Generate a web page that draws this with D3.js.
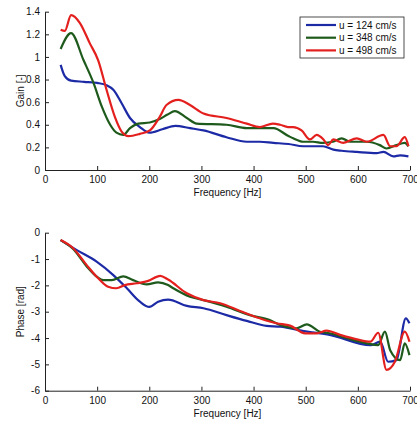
<!DOCTYPE html>
<html lang="en">
<head>
  <meta charset="UTF-8">
  <title>Gain and phase vs frequency</title>
  <style>
    body { margin: 0; background: #fff; }
    svg { display: block; font-family: "Liberation Sans", Arial, sans-serif; }
    .axis path, .axis line { stroke: #222; }
    .axis text { font-size: 10px; fill: #111; }
    .label { font-size: 10px; fill: #111; }
    .curve { fill: none; stroke-width: 2.2px; stroke-linejoin: round; }
  </style>
  <script src="https://d3js.org/d3.v7.min.js"></script>
</head>
<body>
<div id="chart"></div>
<script>
  // series labels and colours
  var seriesNames = ["u = 124 cm/s", "u = 348 cm/s", "u = 498 cm/s"];
  var colors = ["#1c2aa6", "#1e5a1c", "#e3201e"];

  // gain [-] vs frequency [Hz]
  var gain124 = [[30,0.93],[38,0.83],[50,0.79],[75,0.78],[100,0.77],[118,0.75],[131,0.71],[147,0.59],[163,0.46],[182,0.38],[200,0.33],[225,0.36],[250,0.39],[278,0.37],[304,0.35],[348,0.29],[387,0.25],[412,0.25],[438,0.24],[467,0.23],[495,0.21],[533,0.21],[553,0.18],[569,0.17],[598,0.16],[636,0.15],[649,0.16],[668,0.12],[681,0.13],[697,0.12]];
  var gain348 = [[30,1.07],[50,1.21],[74,0.97],[93,0.77],[109,0.56],[125,0.40],[137,0.33],[150,0.31],[163,0.37],[179,0.41],[201,0.42],[220,0.45],[235,0.49],[249,0.52],[272,0.46],[291,0.41],[348,0.40],[387,0.37],[412,0.37],[438,0.37],[467,0.30],[476,0.28],[495,0.25],[514,0.25],[533,0.24],[552,0.25],[569,0.28],[585,0.25],[617,0.25],[642,0.22],[655,0.19],[674,0.22],[690,0.24],[697,0.21]];
  var gain498 = [[30,1.24],[38,1.23],[50,1.37],[67,1.30],[86,1.12],[102,0.97],[118,0.71],[134,0.47],[147,0.34],[160,0.30],[182,0.32],[201,0.35],[220,0.47],[233,0.575],[256,0.62],[278,0.575],[304,0.50],[348,0.46],[387,0.41],[412,0.38],[437,0.41],[451,0.40],[466,0.38],[476,0.38],[492,0.35],[508,0.27],[521,0.31],[534,0.27],[543,0.22],[553,0.27],[572,0.24],[598,0.28],[617,0.25],[649,0.31],[662,0.21],[674,0.21],[690,0.29],[697,0.21]];

  // phase [rad] vs frequency [Hz]
  var phase124 = [[30,-0.28],[61,-0.66],[99,-1.10],[131,-1.61],[157,-2.11],[182,-2.62],[200,-2.82],[217,-2.62],[236,-2.54],[272,-2.78],[304,-2.87],[348,-3.13],[387,-3.35],[425,-3.54],[451,-3.57],[500,-3.75],[546,-3.88],[624,-4.27],[643,-4.14],[658,-4.90],[674,-4.84],[692,-3.25],[699,-3.44]];
  var phase348 = [[30,-0.28],[54,-0.62],[80,-1.28],[100,-1.68],[112,-1.80],[128,-1.80],[150,-1.66],[169,-1.80],[195,-1.96],[217,-1.89],[236,-1.99],[246,-2.11],[278,-2.43],[304,-2.56],[348,-2.81],[393,-3.13],[431,-3.32],[451,-3.50],[483,-3.63],[502,-3.48],[527,-3.76],[546,-3.82],[579,-4.01],[617,-4.20],[639,-4.27],[652,-3.76],[662,-4.46],[681,-4.84],[690,-4.20],[699,-4.65]];
  var phase498 = [[30,-0.28],[54,-0.59],[80,-1.23],[102,-1.73],[121,-2.05],[137,-2.11],[153,-1.99],[176,-1.92],[198,-1.83],[221,-1.64],[236,-1.78],[272,-2.30],[304,-2.56],[336,-2.68],[374,-2.97],[412,-3.25],[444,-3.44],[470,-3.53],[499,-3.82],[521,-3.82],[540,-3.72],[566,-3.88],[598,-4.05],[624,-4.14],[639,-3.80],[655,-5.21],[671,-4.90],[690,-3.76],[699,-4.14]];

  var freqTicks = [0, 100, 200, 300, 400, 500, 600, 700];
  var gainTicks = [0, 0.2, 0.4, 0.6, 0.8, 1, 1.2, 1.4];
  var phaseTicks = [0, -1, -2, -3, -4, -5, -6];

  var width = 417, height = 421;
  var svg = d3.select("#chart").append("svg")
    .attr("width", width)
    .attr("height", height);

  var x = d3.scaleLinear().domain([0, 700]).range([45, 410]);

  // draw one panel
  function panel(series, yDomain, yRange, yTicks, yLabel) {
    var y = d3.scaleLinear().domain(yDomain).range(yRange);
    var g = svg.append("g");

    g.append("g")
      .attr("class", "axis")
      .attr("transform", "translate(0," + yRange[0] + ")")
      .call(d3.axisBottom(x).tickValues(freqTicks).tickSizeInner(-4).tickSizeOuter(0).tickPadding(6));

    g.append("g")
      .attr("class", "axis")
      .attr("transform", "translate(" + x.range()[0] + ",0)")
      .call(d3.axisLeft(y).tickValues(yTicks).tickSizeInner(-4).tickSizeOuter(0).tickPadding(5)
        .tickFormat(d => String(+d.toFixed(1))));

    var line = d3.line()
      .x(d => x(d[0]))
      .y(d => y(d[1]))
      .curve(d3.curveMonotoneX);

    series.forEach((s, i) => {
      g.append("path")
        .attr("class", "curve")
        .attr("stroke", colors[i])
        .attr("d", line(s));
    });

    // axis titles
    g.append("text")
      .attr("class", "label")
      .attr("x", (x.range()[0] + x.range()[1]) / 2)
      .attr("y", yRange[0] + 26)
      .attr("text-anchor", "middle")
      .text("Frequency [Hz]");

    g.append("text")
      .attr("class", "label")
      .attr("transform", "translate(24," + (yRange[0] + yRange[1]) / 2 + ") rotate(-90)")
      .attr("text-anchor", "middle")
      .text(yLabel);
  }

  panel([gain124, gain348, gain498], [0, 1.4], [170, 11.7], gainTicks, "Gain [-]");
  panel([phase124, phase348, phase498], [-6, 0], [390.7, 232.7], phaseTicks, "Phase [rad]");

  // legend in the gain panel
  var legend = svg.append("g").attr("transform", "translate(300,17)");
  legend.append("rect")
    .attr("width", 104).attr("height", 41)
    .attr("fill", "#fff").attr("stroke", "#222").attr("stroke-width", 0.8);
  seriesNames.forEach((name, i) => {
    var ly = 8 + i * 12.7;
    legend.append("line")
      .attr("x1", 6).attr("x2", 36)
      .attr("y1", ly).attr("y2", ly)
      .attr("stroke", colors[i]).attr("stroke-width", 2.2);
    legend.append("text")
      .attr("class", "label")
      .attr("x", 39).attr("y", ly + 3.5)
      .text(name);
  });
</script>
</body>
</html>
